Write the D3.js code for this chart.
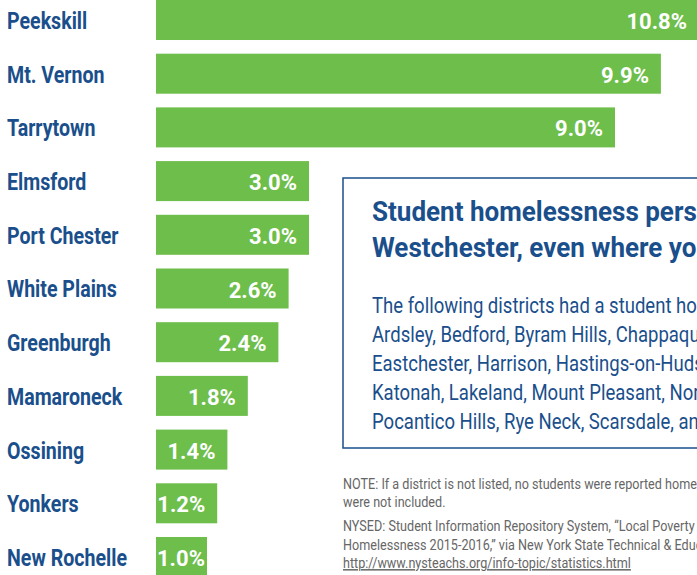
<!DOCTYPE html>
<html>
<head>
<meta charset="utf-8">
<script src="https://cdn.jsdelivr.net/npm/d3@7"></script>
<style>
  body { margin: 0; background: #fff; }
  svg { display: block; }
  text { font-family: Roboto, "Noto Sans", sans-serif; }
</style>
</head>
<body>
<div id="chart"></div>
<script>
var districts = ["Peekskill", "Mt. Vernon", "Tarrytown", "Elmsford", "Port Chester", "White Plains",
        "Greenburgh", "Mamaroneck", "Ossining", "Yonkers", "New Rochelle"];
var rates = [10.8, 9.9, 9.0, 3.0, 3.0, 2.6, 2.4, 1.8, 1.4, 1.2, 1.0];

var boxTitle = ["Student homelessness persists across", "Westchester, even where you might not expect it"];
var boxBody = [
        "The following districts had a student homelessness rate below 1%:",
        "Ardsley, Bedford, Byram Hills, Chappaqua, Croton-Harmon, Dobbs Ferry,",
        "Eastchester, Harrison, Hastings-on-Hudson, Irvington, Katonah-Lewisboro,",
        "Katonah, Lakeland, Mount Pleasant, North Salem, Pelham, Pleasantville,",
        "Pocantico Hills, Rye Neck, Scarsdale, and Somers."
];
var noteLines = [
        "NOTE: If a district is not listed, no students were reported homeless or the numbers",
        "were not included.",
        "NYSED: Student Information Repository System, \u201cLocal Poverty and",
        "Homelessness 2015-2016,\u201d via New York State Technical & Educational Assistance Center,"
];
var sourceUrl = "http://www.nysteachs.org/info-topic/statistics.html";

var width = 697, height = 575;
var green = "#6dbe4b", blue = "#1a4f8c";

var data = districts.map(function (d, i) { return { name: d, rate: rates[i] }; });

var x = d3.scaleLinear()
        .domain([0, 10])
        .range([156, 666]);

var y = d3.scaleBand()
        .domain(districts)
        .range([0, 577])
        .paddingInner(0.255)
        .paddingOuter(0)
        .align(0);

var svg = d3.select("#chart").append("svg")
        .attr("width", width)
        .attr("height", height);

// horizontal squeeze so the text matches the narrow face of the original
function squeeze(sample, size, weight, target) {
        var t = svg.append("text")
                .style("font-size", size + "px")
                .style("font-weight", weight)
                .text(sample);
        var w = t.node().getComputedTextLength();
        t.remove();
        return target / w;
}

// bars
svg.selectAll(".bar")
        .data(data)
        .enter().append("rect")
        .attr("class", "bar")
        .attr("x", x(0))
        .attr("y", function (d) { return y(d.name); })
        .attr("width", function (d) { return x(d.rate) - x(0); })
        .attr("height", y.bandwidth())
        .attr("fill", green);

// district names
var sName = squeeze("New Rochelle", 23, "bold", 120);
svg.append("g")
        .attr("transform", "translate(7,0) scale(" + sName + ",1)")
        .selectAll(".name")
        .data(data)
        .enter().append("text")
        .attr("class", "name")
        .attr("x", 0)
        .attr("y", function (d) { return y(d.name) + y.bandwidth() / 2 + 9; })
        .attr("fill", blue)
        .style("font-size", "23px")
        .style("font-weight", "bold")
        .text(function (d) { return d.name; });

// values inside bars
var vals = svg.selectAll(".val")
        .data(data)
        .enter().append("text")
        .attr("class", "val")
        .attr("y", function (d) { return y(d.name) + y.bandwidth() / 2 + 9; })
        .attr("fill", "#fff")
        .attr("text-anchor", "end")
        .style("font-size", "22px")
        .style("font-weight", "bold")
        .text(function (d) { return d.rate.toFixed(1) + "%"; });

vals.attr("x", function (d) {
        var w = this.getComputedTextLength();
        return Math.min(width - 10, Math.max(x(d.rate) - 12, x(0) + 1 + w));
});

// text box
svg.append("rect")
        .attr("x", 343)
        .attr("y", 178)
        .attr("width", 400)
        .attr("height", 270)
        .attr("fill", "#fff")
        .attr("stroke", blue)
        .attr("stroke-width", 1.5);

var sTitle = squeeze("Student homelessness pers", 27, "bold", 325);
svg.append("g")
        .attr("transform", "translate(372,0) scale(" + sTitle + ",1)")
        .selectAll(".btitle")
        .data(boxTitle)
        .enter().append("text")
        .attr("x", 0)
        .attr("y", function (d, i) { return 221 + i * 36; })
        .attr("fill", blue)
        .style("font-size", "27px")
        .style("font-weight", "bold")
        .text(function (d) { return d; });

var sBody = squeeze("The following districts had a student ho", 22, "normal", 325);
svg.append("g")
        .attr("transform", "translate(372,0) scale(" + sBody + ",1)")
        .selectAll(".bbody")
        .data(boxBody)
        .enter().append("text")
        .attr("x", 0)
        .attr("y", function (d, i) { return 313 + i * 29; })
        .attr("fill", blue)
        .style("font-size", "22px")
        .text(function (d) { return d; });

// notes
var sNote = squeeze("NOTE: If a district is not listed, no students were reported home", 15, "normal", 354);
var notes = svg.append("g")
        .attr("transform", "translate(343,0) scale(" + sNote + ",1)");

notes.selectAll(".note")
        .data(noteLines)
        .enter().append("text")
        .attr("x", 0)
        .attr("y", function (d, i) { return [489, 507, 531, 550][i]; })
        .attr("fill", "#666")
        .style("font-size", "15px")
        .text(function (d) { return d; });

notes.append("text")
        .attr("x", 0)
        .attr("y", 568)
        .attr("fill", "#666")
        .style("font-size", "15px")
        .style("text-decoration", "underline")
        .text(sourceUrl);
</script>
</body>
</html>
